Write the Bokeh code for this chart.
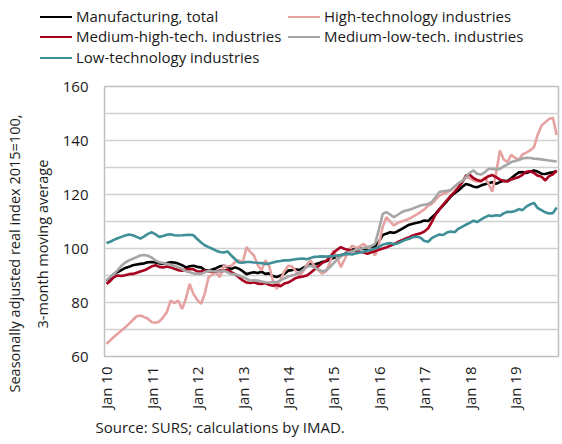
import pandas as pd
from datetime import datetime
from bokeh.plotting import figure
from bokeh.layouts import column
from bokeh.models import (Range1d, FixedTicker, DatetimeTickFormatter, Title,
                          ColumnDataSource, Div)
from bokeh.embed import file_html
from bokeh.resources import INLINE
from math import pi

# ---------------- data (monthly, Jan 2010 - Dec 2019) ----------------
months = pd.date_range("2010-01-01", periods=120, freq="MS")
tick_years = list(range(2010, 2020))

manufacturing_total = [
    88.1, 89.3, 90.5, 91.3, 92.0, 92.8, 93.2, 93.8, 94.1, 94.3, 94.5, 94.9,
    95.0, 94.8, 94.5, 94.4, 94.6, 94.9, 94.8, 94.4, 93.8, 93.0, 93.4, 93.6,
    93.2, 93.0, 92.0, 91.8, 92.2, 92.7, 93.4, 93.6, 93.2, 92.4, 93.0, 92.5,
    91.6, 90.5, 90.9, 91.2, 90.9, 91.4, 90.6, 90.8, 89.8, 89.4, 90.0, 90.6,
    91.8, 92.0, 92.3, 92.0, 92.8, 93.6, 94.3, 94.0, 94.5, 95.0, 95.3, 95.8,
    96.5, 97.0, 97.5, 98.0, 98.8, 99.5, 99.9, 100.0, 99.8, 99.6, 100.2, 100.6,
    102.5, 105.0, 105.5, 106.0, 105.8, 106.4, 107.2, 108.0, 108.8, 109.2, 109.5, 109.8,
    110.4, 110.2, 111.5, 112.8, 114.5, 116.0, 117.5, 119.2, 120.5, 121.5, 122.8, 123.9,
    123.5, 122.9, 122.7, 123.3, 123.8, 124.2, 124.5, 124.0, 124.6, 125.1, 125.0, 126.0,
    127.2, 128.2, 128.3, 128.0, 128.4, 128.9, 128.5, 127.7, 127.6, 128.0, 128.2, 128.6,
]

high_tech = [
    64.7, 66.0, 67.2, 68.4, 69.6, 70.8, 72.1, 73.5, 74.9, 75.2, 74.6, 74.0,
    72.7, 72.5, 72.9, 74.5, 76.4, 80.7, 79.8, 80.7, 77.6, 81.3, 86.9, 83.2,
    81.0, 79.5, 83.2, 89.4, 90.3, 91.2, 89.4, 93.6, 93.4, 93.6, 95.0, 95.6,
    94.8, 100.5, 98.8, 97.4, 94.0, 91.8, 95.6, 93.6, 88.0, 85.0, 88.6, 91.5,
    93.6, 93.4, 91.8, 89.6, 91.5, 94.0, 95.6, 93.5, 92.0, 90.7, 91.5, 94.5,
    99.3, 96.5, 93.1, 96.0, 99.0, 101.1, 100.2, 100.8, 101.7, 100.5, 99.8, 97.4,
    101.5, 108.0, 111.6, 110.0, 108.5, 109.5, 110.0, 110.5, 111.0, 111.8, 112.6, 113.5,
    114.5, 115.9, 116.5, 118.0, 119.6, 120.2, 120.8, 121.5, 122.8, 124.0, 124.6, 126.4,
    126.0, 125.2, 124.8, 124.7, 126.4, 124.0, 121.0, 128.0, 136.3, 133.0, 132.0, 134.7,
    133.5, 133.0, 134.8, 135.5, 136.3, 137.5, 142.0, 145.5, 146.8, 148.0, 148.4, 142.0,
]

medium_high_tech = [
    86.9, 88.0, 89.4, 90.0, 89.8, 90.1, 90.5, 90.6, 91.0, 91.5, 91.9, 92.6,
    93.4, 93.8, 93.2, 93.0, 93.3, 93.0, 92.5, 92.0, 91.8, 92.2, 92.4, 92.3,
    91.5, 91.5, 91.8, 91.6, 91.4, 91.5, 91.8, 91.7, 92.2, 91.2, 90.5, 89.3,
    88.2, 87.4, 87.2, 87.5, 87.0, 86.9, 87.2, 86.6, 86.2, 86.6, 86.0, 87.0,
    87.4, 88.2, 89.0, 89.4, 89.6, 90.0, 91.0, 92.2, 93.4, 94.6, 95.3, 96.8,
    98.4, 99.6, 100.5, 99.8, 99.5, 99.0, 99.3, 98.8, 98.5, 98.0, 98.6, 99.0,
    99.5, 100.0, 100.4, 101.0, 101.6, 102.4, 103.0, 103.6, 104.2, 104.8, 105.3, 105.6,
    106.3, 107.5, 109.8, 112.5, 114.4, 116.2, 117.8, 119.5, 121.0, 122.6, 124.5, 127.0,
    127.3, 126.0, 125.4, 125.0, 125.8, 126.8, 127.2, 126.4, 125.5, 125.0, 124.8, 125.6,
    126.0, 126.5, 127.3, 128.4, 128.6, 128.0, 127.0, 126.6, 125.2, 126.8, 127.5, 128.9,
]

medium_low_tech = [
    88.2, 89.5, 90.5, 92.0, 93.6, 94.8, 95.6, 96.2, 96.8, 97.4, 97.6, 97.3,
    96.6, 95.5, 94.9, 94.6, 94.3, 94.0, 93.6, 93.0, 92.4, 91.6, 91.2, 90.8,
    90.6, 90.6, 91.2, 91.8, 91.6, 91.5, 91.5, 91.8, 91.2, 90.5, 90.5, 90.0,
    89.4, 88.8, 88.1, 88.2, 88.1, 87.8, 87.5, 87.4, 87.6, 87.5, 88.2, 88.9,
    89.6, 90.0, 90.4, 91.0, 92.0, 93.2, 93.6, 93.0, 92.2, 91.6, 91.8, 93.0,
    94.5, 96.0, 97.0, 97.8, 98.5, 99.0, 99.4, 99.8, 100.2, 100.5, 101.0, 101.7,
    107.0, 112.8, 113.5, 112.6, 111.6, 112.5, 113.4, 114.0, 114.3, 114.8, 115.4, 115.9,
    116.2, 116.5, 117.2, 119.0, 120.9, 121.2, 121.4, 121.7, 123.0, 124.2, 125.0, 126.5,
    128.0, 128.9, 127.7, 127.4, 128.2, 129.5, 129.5, 129.3, 129.5, 130.4, 131.2, 132.0,
    132.4, 132.8, 133.3, 133.6, 133.5, 133.3, 133.2, 133.0, 132.8, 132.6, 132.4, 132.2,
]

low_tech = [
    102.0, 102.5, 103.2, 103.8, 104.3, 104.8, 105.2, 104.9, 104.3, 103.7, 104.5, 105.4,
    106.0, 105.2, 104.3, 104.6, 105.1, 105.3, 104.9, 104.8, 104.9, 105.0, 105.1, 104.9,
    103.5, 102.2, 101.2, 100.5, 99.9, 99.2, 98.7, 98.5, 98.9, 97.4, 96.0, 94.8,
    94.7, 95.0, 95.0, 94.8, 94.7, 94.6, 94.3, 94.4, 94.8, 95.2, 95.4, 95.6,
    95.6, 95.8, 96.0, 96.2, 96.3, 96.0, 96.5, 96.9, 97.0, 97.1, 97.0, 97.1,
    97.2, 97.4, 97.6, 97.9, 98.0, 97.8, 98.2, 98.5, 98.8, 99.2, 99.6, 100.0,
    100.6, 101.4, 101.8, 102.0, 101.6, 101.9, 102.6, 103.2, 103.6, 104.2, 104.4, 104.0,
    102.8, 102.5, 103.8, 104.6, 105.2, 105.0, 105.9, 106.3, 106.0, 107.3, 108.0, 108.8,
    109.5, 110.3, 109.8, 110.7, 111.5, 112.2, 112.0, 112.3, 112.1, 113.0, 113.6, 113.5,
    113.9, 114.6, 114.2, 115.5, 116.3, 116.9, 115.0, 114.2, 113.4, 113.0, 113.1, 115.2,
]

series_names = ["Manufacturing, total", "High-technology industries",
                "Medium-high-tech. industries", "Medium-low-tech. industries",
                "Low-technology industries"]
series_values = [manufacturing_total, high_tech, medium_high_tech,
                 medium_low_tech, low_tech]
series_colors = ["#000000", "#e6a1a1", "#a8001f", "#a6a6a6", "#3f8f98"]

FONT = "Open Sans"
TEXT_COLOR = "#1a1a1a"
LINE_W = 2.6

# ---------------- legend strip (two columns, row-major) ----------------
LEG_COL_X = [40, 288]
LEG_ROW_Y = [7, 27, 48]
parts = []
for k, (name, col) in enumerate(zip(series_names, series_colors)):
    x = LEG_COL_X[k % 2]
    y = LEG_ROW_Y[k // 2]
    parts.append(
        f'<div style="position:absolute;left:{x}px;top:{y}px;height:20px;'
        f'display:flex;align-items:center;white-space:nowrap;">'
        f'<span style="display:inline-block;width:32px;height:0;'
        f'border-top:2.5px solid {col};margin-right:4px;"></span>'
        f'<span>{name}</span></div>')
legend_html = (f'<div style="position:relative;width:562px;height:76px;'
               f'font-family:\'{FONT}\';font-size:15px;color:{TEXT_COLOR};">'
               + "".join(parts) + '</div>')
lg = Div(text=legend_html, width=562, height=76, margin=0)

# ---------------- main chart ----------------
p = figure(width=562, height=368, output_backend="svg",
           toolbar_location=None, x_axis_type="datetime",
           x_range=Range1d(datetime(2009, 12, 16), datetime(2019, 12, 16)),
           y_range=Range1d(60, 160),
           min_border_left=104, min_border_right=4, min_border_top=10,
           min_border_bottom=88)

p.background_fill_color = "white"
p.border_fill_color = "white"
p.outline_line_color = "#c0c0c0"
p.outline_line_width = 1.5

src = ColumnDataSource(dict(x=months, **{f"s{i}": v for i, v in enumerate(series_values)}))
for i, col in enumerate(series_colors):
    p.line("x", f"s{i}", source=src, line_color=col, line_width=LINE_W)

p.yaxis.ticker = FixedTicker(ticks=[60, 80, 100, 120, 140, 160])
p.ygrid.ticker = FixedTicker(ticks=list(range(60, 161, 10)))
p.ygrid.grid_line_color = "#d0d0d0"
p.ygrid.grid_line_width = 1.5
p.xgrid.visible = False

tick_ms = [pd.Timestamp(f"{y}-01-01").value // 10**6 for y in tick_years]
p.xaxis.ticker = FixedTicker(ticks=tick_ms)
fmt = "%b %y"
p.xaxis.formatter = DatetimeTickFormatter(years=fmt, months=fmt, days=fmt,
                                          hours=fmt, minutes=fmt, seconds=fmt,
                                          milliseconds=fmt, microseconds=fmt,
                                          minsec=fmt, hourmin=fmt)
p.xaxis.major_label_orientation = pi / 2

for ax in (p.xaxis[0], p.yaxis[0]):
    ax.axis_line_color = None
    ax.major_tick_line_color = None
    ax.minor_tick_line_color = None
    ax.major_tick_out = 0
    ax.major_tick_in = 0
    ax.minor_tick_out = 0
    ax.minor_tick_in = 0
    ax.major_label_text_font = FONT
    ax.major_label_text_font_size = "15px"
    ax.major_label_text_color = TEXT_COLOR
p.yaxis.major_label_standoff = 16
p.xaxis.major_label_standoff = 10

t2 = Title(text="3-month moving average", align="left", offset=28,
           text_font=FONT, text_font_size="14.5px", text_font_style="normal",
           text_color=TEXT_COLOR, standoff=15)
t1 = Title(text="Seasonally adjusted real index 2015=100,", align="left",
           offset=-36, text_font=FONT, text_font_size="14.5px",
           text_font_style="normal", text_color=TEXT_COLOR, standoff=0)
p.add_layout(t2, "left")
p.add_layout(t1, "left")

src_title = Title(text="Source: SURS; calculations by IMAD.", align="left",
                  offset=-9, text_font=FONT, text_font_size="15px",
                  text_font_style="normal", text_color=TEXT_COLOR, standoff=4)
p.add_layout(src_title, "below")

layout = column(lg, p, spacing=0)
open("out.html", "w").write(file_html(layout, INLINE))
